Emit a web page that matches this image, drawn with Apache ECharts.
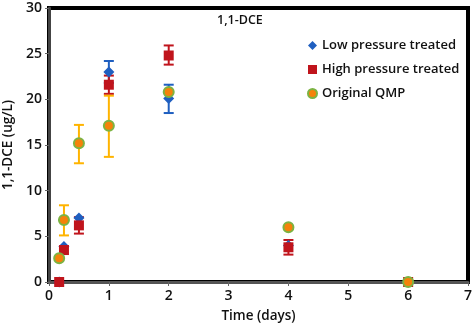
<!DOCTYPE html>
<html><head><meta charset="utf-8">
<script src="https://cdn.jsdelivr.net/npm/echarts@6/dist/echarts.min.js"></script>
<style>html,body{margin:0;padding:0;background:#fff}#c{width:474px;height:325px}</style>
</head><body><div id="c"></div>
<script>
const times = [0.17, 0.25, 0.5, 1, 2, 4, 6];
const lowVals  = [0, 3.9, 7.0, 23.0, 20.1, 4.0, 0];
const lowLo    = [0, 3.9, 7.0, 21.8, 18.5, 4.0, 0];
const lowHi    = [0, 3.9, 7.0, 24.2, 21.6, 4.0, 0];
const highVals = [0, 3.5, 6.2, 21.6, 24.8, 3.8, 0];
const highLo   = [0, 3.5, 5.3, 20.6, 23.8, 3.0, 0];
const highHi   = [0, 3.5, 7.1, 22.6, 25.9, 4.6, 0];
const origVals = [2.6, 6.8, 15.2, 17.1, 20.8, 6.0, 0];
const origLo   = [2.6, 5.1, 13.0, 13.7, 20.8, 6.0, 0];
const origHi   = [2.6, 8.4, 17.2, 20.4, 20.8, 6.0, 0];
const xTicks = [0, 1, 2, 3, 4, 5, 6, 7];
const yTicks = [0, 5, 10, 15, 20, 25, 30];

const FONT = '"Open Sans", sans-serif';
const chart = echarts.init(document.getElementById('c'));

function pts(v){ return times.map((t,i)=>[t, v[i]]); }
function errData(lo, hi){ return times.map((t,i)=>[t, lo[i], hi[i]]); }
function errSeries(name, lo, hi, color){
  return {
    type: 'custom', name: name, z: 2,
    data: errData(lo, hi),
    renderItem: function(params, api){
      const x = api.value(0), l = api.value(1), h = api.value(2);
      if (l === h) return null;
      const pL = api.coord([x, l]), pH = api.coord([x, h]);
      const w = 5;
      const st = {stroke: color, lineWidth: 2};
      return {type:'group', children:[
        {type:'line', shape:{x1:pL[0], y1:pL[1], x2:pH[0], y2:pH[1]}, style:st},
        {type:'line', shape:{x1:pL[0]-w, y1:pL[1], x2:pL[0]+w, y2:pL[1]}, style:st},
        {type:'line', shape:{x1:pH[0]-w, y1:pH[1], x2:pH[0]+w, y2:pH[1]}, style:st}
      ]};
    }
  };
}

chart.setOption({
  animation: false,
  backgroundColor: '#fff',
  title: {
    text: '1,1-DCE', left: 212, top: 9,
    textStyle: {fontFamily: FONT, fontSize: 12.5, fontWeight: 600, color: '#111'}
  },
  legend: {
    orient: 'vertical', left: 302, top: 33, itemGap: 9,
    itemWidth: 9, itemHeight: 9,
    textStyle: {fontFamily: FONT, fontSize: 13, fontWeight: 600, color: '#111', lineHeight: 15},
    data: ['Low pressure treated', 'High pressure treated', 'Original QMP']
  },
  grid: {left: 49, right: 6, top: 8, bottom: 43, show: true, borderColor: '#000', borderWidth: 4,
         containLabel: false, outerBoundsMode: 'none'},
  xAxis: {
    type: 'value', min: 0, max: 7, interval: 1,
    name: 'Time (days)', nameLocation: 'middle', nameGap: 27,
    nameTextStyle: {fontFamily: FONT, fontSize: 13.5, fontWeight: 600, color: '#111'},
    axisLine: {show: true, lineStyle: {color: '#555', width: 3}},
    axisTick: {show: true, inside: false, length: 4, lineStyle: {color: '#666'}},
    axisLabel: {fontFamily: FONT, fontSize: 14, fontWeight: 600, color: '#111', margin: 7,
      formatter: v => xTicks.includes(v) ? String(v) : ''},
    splitLine: {show: false}
  },
  yAxis: {
    type: 'value', min: 0, max: 30, interval: 5,
    name: '1,1-DCE (ug/L)', nameLocation: 'middle', nameGap: 29,
    nameTextStyle: {fontFamily: FONT, fontSize: 13.5, fontWeight: 600, color: '#111'},
    axisLine: {show: true, lineStyle: {color: '#444', width: 3}},
    axisTick: {show: true, length: 4, lineStyle: {color: '#666'}},
    axisLabel: {fontFamily: FONT, fontSize: 14, fontWeight: 600, color: '#111', margin: 7,
      formatter: v => yTicks.includes(v) ? String(v) : ''},
    splitLine: {show: false}
  },
  series: [
    errSeries('errLow', lowLo, lowHi, '#1f5fc0'),
    errSeries('errHigh', highLo, highHi, '#c0141c'),
    errSeries('errOrig', origLo, origHi, '#ffb400'),
    {type: 'scatter', name: 'Low pressure treated', z: 3, data: pts(lowVals),
     symbol: 'diamond', symbolSize: 11, itemStyle: {color: '#1f5fc0', opacity: 1}},
    {type: 'scatter', name: 'High pressure treated', z: 4, data: pts(highVals),
     symbol: 'rect', symbolSize: 10, itemStyle: {color: '#c0141c', opacity: 1}},
    {type: 'scatter', name: 'Original QMP', z: 5, data: pts(origVals),
     symbol: 'circle', symbolSize: 10, itemStyle: {color: '#f5820a', borderColor: '#7cb342', borderWidth: 2, opacity: 1}}
  ]
});
</script></body></html>
